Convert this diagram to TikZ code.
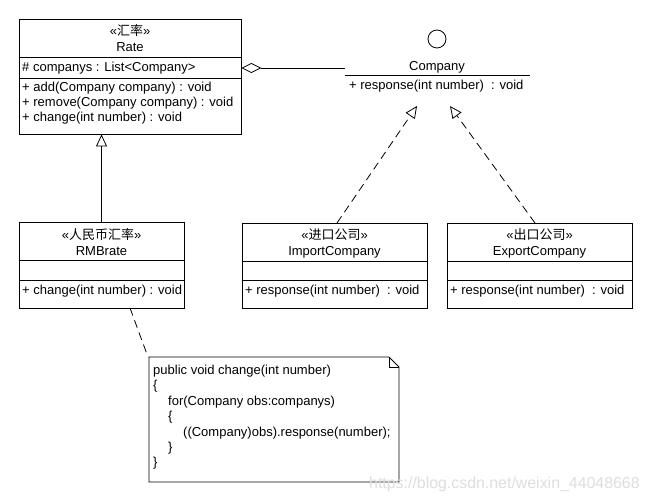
\documentclass[tikz,border=0pt]{standalone}
\usepackage{fontspec}
\setmainfont{Liberation Sans}
\newfontfamily\cjk{Noto Sans CJK SC}
\usetikzlibrary{arrows.meta}
\begin{document}
\begin{tikzpicture}[x=1pt,y=-1pt,
  font=\fontsize{13}{15}\selectfont,
  cls/.style={draw, line width=0.8pt, inner sep=0, minimum width=#1},
  txt/.style={inner sep=0, anchor=west, text height=9.5pt, text depth=2.5pt},
  ctr/.style={inner sep=0, text height=9.5pt, text depth=2.5pt},
  ln/.style={line width=0.8pt},
  dsh/.style={line width=0.8pt, dash pattern=on 8pt off 5pt},
  gen/.style={-{Triangle[open,length=12pt,width=11pt]}},
]
\useasboundingbox (0,0) rectangle (651,502);
\fill[white] (0,0) rectangle (651,502);

% ---------- Rate ----------
\node[cls=222pt, minimum height=115pt] (rate) at (130,76.5) {};
\draw[ln] (19,57) -- (241,57);
\draw[ln] (19,78) -- (241,78);
\node[ctr] (rateS) at (130,32) {«{\cjk 汇率}»};
\node[ctr] (rateN) at (130,48) {Rate};
\node[txt] (rateA) at (22,68) {\# companys : List<Company>};
\node[txt] (rateM1) at (22,88) {+ add(Company company) : void};
\node[txt] (rateM2) at (22,103) {+ remove(Company company) : void};
\node[txt] (rateM3) at (22,118) {+ change(int number) : void};

% ---------- Company (interface) ----------
\node[draw, circle, line width=0.8pt, minimum size=18pt, inner sep=0] (icon) at (437,39) {};
\node[ctr] (compN) at (437,67) {Company};
\coordinate (compL) at (345,75);
\coordinate (compR) at (530,75);
\draw[ln] (compL) -- (compR);
\node[txt] (compM) at (349,86) {+ response(int number)\ \ : void};
\coordinate (aggEnd) at (345,68);
\coordinate (tipL) at (417,106);
\coordinate (tipR) at (450,106);

% aggregation
\draw[ln, {Diamond[open,length=20pt,width=10pt]}-] (rate.east |- aggEnd) -- (aggEnd);

% ---------- RMBrate ----------
\node[cls=165pt, minimum height=86pt] (rmb) at (101.5,265) {};
\draw[ln] (19,260) -- (184,260);
\draw[ln] (19,280) -- (184,280);
\node[ctr] (rmbS) at (101.5,236) {«{\cjk 人民币汇率}»};
\node[ctr] (rmbN) at (101.5,252) {RMBrate};
\node[txt] (rmbM) at (22,291) {+ change(int number) : void};

\draw[ln, gen] (rmb.north) -- (rate.south -| rmb.north);

% ---------- ImportCompany ----------
\node[cls=185pt, minimum height=85pt] (imp) at (334.5,265.5) {};
\draw[ln] (242,261) -- (427,261);
\draw[ln] (242,280) -- (427,280);
\node[ctr] (impS) at (334.5,236) {«{\cjk 进口公司}»};
\node[ctr] (impN) at (334.5,252) {ImportCompany};
\node[txt] (impM) at (245,291) {+ response(int number)\ \ : void};

% ---------- ExportCompany ----------
\node[cls=185pt, minimum height=85pt] (exp) at (539.5,265.5) {};
\draw[ln] (447,261) -- (632,261);
\draw[ln] (447,280) -- (632,280);
\node[ctr] (expS) at (539.5,236) {«{\cjk 出口公司}»};
\node[ctr] (expN) at (539.5,252) {ExportCompany};
\node[txt] (expM) at (450,291) {+ response(int number)\ \ : void};

% realizations
\coordinate (impTop) at (337,223);
\coordinate (expTop) at (535,223);
\draw[dsh, gen] (impTop) -- (tipL);
\draw[dsh, gen] (expTop) -- (tipR);

% ---------- Note ----------
\coordinate (nA) at (149,357);
\coordinate (nB) at (389,357);
\coordinate (nC) at (399,367);
\coordinate (nD) at (399,482);
\coordinate (nE) at (149,482);
\draw[ln] (nA) -- (nB) -- (nC) -- (nD) -- (nE) -- cycle;
\draw[ln] (nB) -- (389,367) -- (nC);
\coordinate (rmbB) at (130,308);
\draw[dsh] (rmbB) -- (148,357);
\node[txt] (n1) at (153,371) {public void change(int number)};
\node[txt] (n2) at (153,386.4) {\{};
\node[txt] (n3) at (168,401.8) {for(Company obs:companys)};
\node[txt] (n4) at (168,417.2) {\{};
\node[txt] (n5) at (183,432.6) {((Company)obs).response(number);};
\node[txt] (n6) at (168,448) {\}};
\node[txt] (n7) at (153,463.4) {\}};

% watermark
\node[txt, text=black!13, font=\fontsize{15.9}{17}\selectfont] (wm) at (369,485) {https://blog.csdn.net/weixin\_44048668};
\end{tikzpicture}
\end{document}
